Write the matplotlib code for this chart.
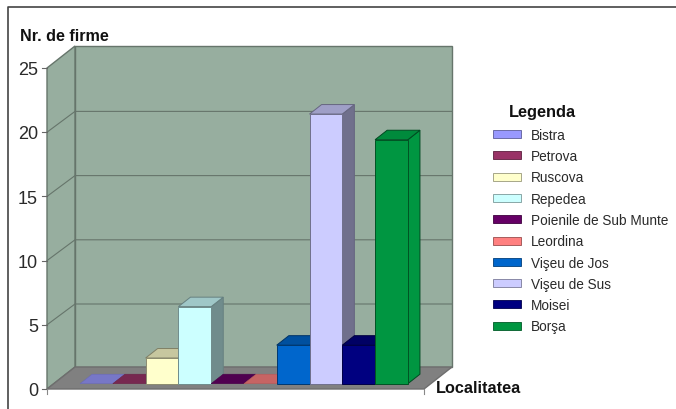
import matplotlib
matplotlib.use("Agg")
import matplotlib.pyplot as plt
from matplotlib.patches import Polygon, Rectangle

plt.rcParams['font.family'] = ['Liberation Sans', 'DejaVu Sans']

localitati = ["Bistra", "Petrova", "Ruscova", "Repedea", "Poienile de Sub Munte",
              "Leordina", "Vişeu de Jos", "Vişeu de Sus", "Moisei", "Borşa"]
firme = [0, 0, 2, 6, 0, 0, 3, 21, 3, 19]
culori = ["#9999FF", "#993366", "#FFFFCC", "#CCFFFF", "#660066",
          "#FF8080", "#0066CC", "#CCCCFF", "#000080", "#009641"]
y_ticks = [0, 5, 10, 15, 20, 25]

W, H = 676, 410
fig = plt.figure(figsize=(W/100, H/100), dpi=100, facecolor="white")

# page frame
bg = fig.add_axes([0, 0, 1, 1]); bg.set_xlim(0, W); bg.set_ylim(H, 0); bg.axis("off")
bg.plot([7.5, 7.5, 676], [410, 7.5, 7.5], color="#444444", lw=1.2)

# front plane of the chart, in data units (category index, value)
x0, x1, yb, yt = 47, 424, 390, 69
ax = fig.add_axes([x0/W, 1-yb/H, (x1-x0)/W, (yb-yt)/H])
ax.set_xlim(-0.75, 10.75); ax.set_ylim(0, 25); ax.axis("off")
px = (x1-x0)/11.5; py = (yb-yt)/25
DX, DY = 28/px, 22/py

def P(x, y, d=0.0):
    return (x + d*DX, y + d*DY)

def poly(pts, fc, ec="#3a4a40", lw=0.7, z=1):
    ax.add_patch(Polygon(pts, closed=True, fc=fc, ec=ec, lw=lw, zorder=z, clip_on=False))

def shade(c, f):
    r, g, b = matplotlib.colors.to_rgb(c)
    return (r*f, g*f, b*f)

L, R = -0.75, 10.75
wall = "#97AE9F"
line = "#66756b"
poly([P(L, 0, 1), P(R, 0, 1), P(R, 25, 1), P(L, 25, 1)], wall, ec=line, lw=1.0)
poly([P(L, 0), P(L, 0, 1), P(L, 25, 1), P(L, 25)], wall, ec=line, lw=1.0)
poly([P(L, 0), P(R, 0), P(R, 0, 1), P(L, 0, 1)], "#808080", ec="#6e6e6e", lw=1.0)
GRID_SHIFT = 1.2 / py
for v in y_ticks[1:-1]:
    ax.plot(*zip(P(L, v), P(L, v - GRID_SHIFT, 1), P(R, v - GRID_SHIFT, 1)),
            color=line, lw=0.8, zorder=1.5, clip_on=False)

# axis ticks
LABEL_SHIFT = 1.8 / py
for v in y_ticks:
    ax.plot([L-5/px, L], [v, v], color="#666666", lw=0.8, clip_on=False)
    ax.text(L-9/px, v - LABEL_SHIFT, str(v), ha="right", va="center", fontsize=13, color="#2a2a2a")
ax.plot([L, L], [0, -5/py], color="#888888", lw=0.8, clip_on=False)
ax.plot([R, R], [0, -5/py], color="#888888", lw=0.8, clip_on=False)

# bars
d0, d1 = 6/22, 15.5/22
BAR_SHIFT = 0.8 / px
BASE_SHIFT = 0.7 / py
for i, (v, c) in enumerate(zip(firme, culori)):
    a, b = i + BAR_SHIFT, i + 1 + BAR_SHIFT
    lo, hi = -BASE_SHIFT, v - BASE_SHIFT
    z = 3 + i*0.01
    if v > 0:
        side_f = 1.0 if localitati[i] == "Borşa" else 0.55
        top_f = 0.92 if localitati[i] == "Borşa" else 0.78
        poly([P(b, lo, d0), P(b, lo, d1), P(b, hi, d1), P(b, hi, d0)], shade(c, side_f), ec=shade(c, 0.5), z=z)
        poly([P(a, hi, d0), P(b, hi, d0), P(b, hi, d1), P(a, hi, d1)], shade(c, top_f), ec=shade(c, 0.5), z=z)
        poly([P(a, lo, d0), P(b, lo, d0), P(b, hi, d0), P(a, hi, d0)], c, ec=shade(c, 0.55), z=z+0.005)
    else:
        poly([P(a, lo, d0), P(b, lo, d0), P(b, lo, d1), P(a, lo, d1)], shade(c, 0.78), ec=shade(c, 0.7), lw=0.4, z=z)

# titles
bg.text(20, 36.5, "Nr. de firme", fontsize=11.6, fontweight="bold", va="center", color="#111111")
bg.text(436, 389, "Localitatea", fontsize=11.7, fontweight="bold", va="center", color="#111111")
bg.text(509, 112, "Legenda", fontsize=11.8, fontweight="bold", va="center", color="#111111")

# legend
for i, (n, c) in enumerate(zip(localitati, culori)):
    y = 135 + i*21.3
    bg.add_patch(Rectangle((493, y-4), 28, 8, fc=c, ec=shade(c, 0.6), lw=0.6))
    bg.text(531, y + 0.8, n, fontsize=9.85, va="center", color="#2a2a2a")

fig.savefig("out.png", dpi=100)
